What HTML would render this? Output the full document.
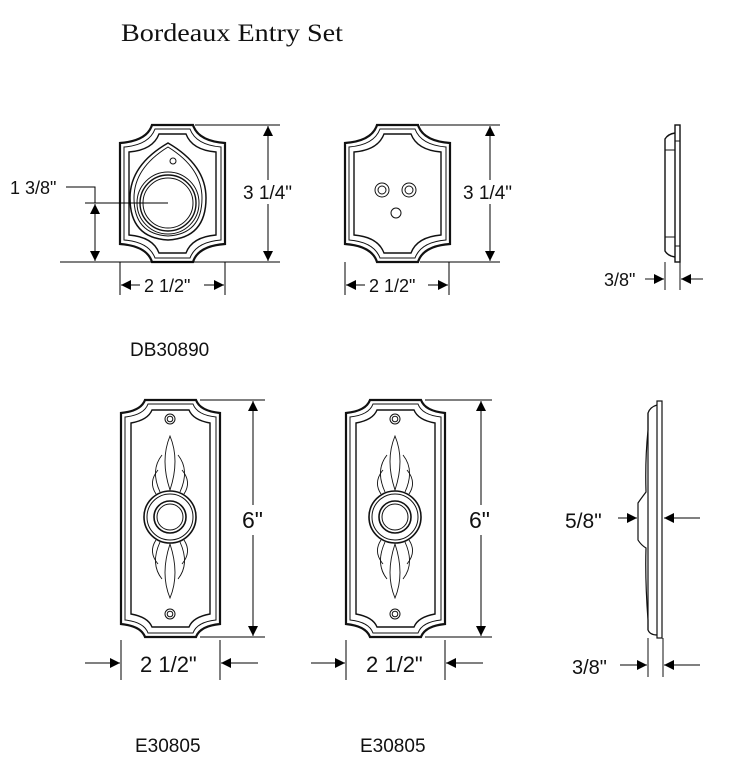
<!DOCTYPE html>
<html><head><meta charset="utf-8"><style>
html,body{margin:0;padding:0;background:#fff;width:747px;height:771px;overflow:hidden}
svg{display:block}
text{font-family:"Liberation Sans",sans-serif;fill:#111}
</style></head><body>
<svg width="747" height="771" viewBox="0 0 747 771" xmlns="http://www.w3.org/2000/svg">
<defs>
<marker id="a" viewBox="0 0 10 10" refX="10" refY="5" markerWidth="10" markerHeight="10" markerUnits="userSpaceOnUse" orient="auto-start-reverse"><path d="M0,0L10,5L0,10Z" fill="#000"/></marker>
<g id="plateA" fill="none" stroke="#111">
<path stroke-width="2.2" d="M152,125 H193 Q198,141 225,143 V244 Q198,246 193,262 H152 Q147,246 120,244 V143 Q147,141 152,125Z"/>
<path stroke-width="1" d="M155,129 H190 Q196,145 221,147 V240 Q196,242 190,258 H155 Q149,242 124,240 V147 Q149,145 155,129Z"/>
<path stroke-width="1.4" d="M159,134 H186 Q192,150 216,152 V235 Q192,237 186,253 H159 Q153,237 129,235 V152 Q153,150 159,134Z"/>
</g>
<g id="plateB" fill="none" stroke="#111">
<path stroke-width="2.2" d="M145,400 H196 Q200,411 220,413 V624 Q200,626 196,637 H145 Q141,626 121,624 V413 Q141,411 145,400Z"/>
<path stroke-width="1" d="M148,404 H193 Q197,415 216,417 V620 Q197,622 193,633 H148 Q144,622 125,620 V417 Q144,415 148,404Z"/>
<path stroke-width="1.4" d="M152,410 H189 Q193,420 210,423 V614 Q193,617 189,627 H152 Q148,617 131,614 V423 Q148,420 152,410Z"/>
<circle cx="170" cy="419" r="5"/><circle cx="170" cy="419" r="2.8"/>
<circle cx="170" cy="614" r="5"/><circle cx="170" cy="614" r="2.8"/>
<g stroke-width="0.9">
<path d="M170,436 Q160,460 170,490 Q180,460 170,436Z"/>
<path d="M162,455 Q150,470 160,492 M178,455 Q190,470 180,492"/>
<path d="M158,470 Q148,482 156,494 M182,470 Q192,482 184,494"/>
<path d="M170,598 Q160,574 170,544 Q180,574 170,598Z"/>
<path d="M162,579 Q150,564 160,542 M178,579 Q190,564 180,542"/>
<path d="M158,564 Q148,552 156,540 M182,564 Q192,552 184,540"/>
</g>
<circle cx="170" cy="517" r="26" fill="#fff" stroke-width="1.6"/><circle cx="170" cy="517" r="23"/>
<circle cx="170" cy="517" r="16" stroke-width="1.6"/><circle cx="170" cy="517" r="13"/>
</g>
</defs>
<text x="121" y="41" style="font-family:'Liberation Serif',serif;font-size:25px" textLength="222" lengthAdjust="spacingAndGlyphs">Bordeaux Entry Set</text>

<!-- top left -->
<use href="#plateA"/>
<g fill="none" stroke="#111" stroke-width="1">
<path d="M130,198 Q130,165 168,143 Q206,165 206,198 Q206,238 168,240 Q130,238 130,198Z" stroke-width="1.5"/>
<path d="M134,198 Q134,168 168,147 Q202,168 202,198 Q202,234 168,236 Q134,234 134,198Z"/>
<circle cx="168" cy="203" r="31"/><circle cx="168" cy="203" r="28" stroke-width="1.4"/><circle cx="168" cy="203" r="25"/>
<circle cx="173" cy="161" r="3"/>
</g>
<g stroke="#000" stroke-width="1" fill="none">
<line x1="195" y1="125" x2="280" y2="125"/><line x1="60" y1="262" x2="280" y2="262"/>
<line x1="268" y1="126" x2="268" y2="261" marker-start="url(#a)" marker-end="url(#a)"/>
<polyline points="66,187 95,187 95,203"/>
<line x1="85" y1="203" x2="168" y2="203"/>
<line x1="95" y1="204" x2="95" y2="261" marker-start="url(#a)" marker-end="url(#a)"/>
<line x1="120" y1="262" x2="120" y2="295"/><line x1="225" y1="262" x2="225" y2="295"/>
<line x1="121" y1="285" x2="140" y2="285" marker-start="url(#a)"/><line x1="204" y1="285" x2="224" y2="285" marker-end="url(#a)"/>
</g>
<rect x="240" y="180" width="56" height="24" fill="#fff"/>
<text x="243" y="199" font-size="19">3 1/4"</text>
<text x="10" y="194" font-size="18">1 3/8"</text>
<text x="144" y="292" font-size="18">2 1/2"</text>
<text x="130" y="356" font-size="19">DB30890</text>

<!-- top middle -->
<use href="#plateA" x="225"/>
<g fill="none" stroke="#111" stroke-width="1">
<circle cx="382" cy="190" r="7"/><circle cx="382" cy="190" r="4"/>
<circle cx="409" cy="190" r="7"/><circle cx="409" cy="190" r="4"/>
<circle cx="396" cy="213" r="5"/>
</g>
<g stroke="#000" stroke-width="1" fill="none">
<line x1="420" y1="125" x2="500" y2="125"/><line x1="420" y1="262" x2="500" y2="262"/>
<line x1="490" y1="126" x2="490" y2="261" marker-start="url(#a)" marker-end="url(#a)"/>
<line x1="345" y1="262" x2="345" y2="295"/><line x1="449" y1="262" x2="449" y2="295"/>
<line x1="346" y1="285" x2="365" y2="285" marker-start="url(#a)"/><line x1="428" y1="285" x2="448" y2="285" marker-end="url(#a)"/>
</g>
<rect x="460" y="180" width="58" height="24" fill="#fff"/>
<text x="463" y="199" font-size="19">3 1/4"</text>
<text x="369" y="292" font-size="18">2 1/2"</text>

<!-- top side view -->
<g fill="none" stroke="#111" stroke-width="1">
<rect x="675" y="125" width="5" height="137" stroke-width="1.4"/>
<line x1="675" y1="141" x2="680" y2="141"/><line x1="675" y1="246" x2="680" y2="246"/>
<path d="M675,133 Q668,134 665,139 V251 Q668,256 675,257" stroke-width="1.4"/>
<line x1="665" y1="150" x2="675" y2="150"/><line x1="665" y1="237" x2="675" y2="237"/>
<line x1="665" y1="262" x2="665" y2="290"/><line x1="680" y1="262" x2="680" y2="290"/>
<line x1="645" y1="279" x2="664" y2="279" marker-end="url(#a)"/>
<line x1="703" y1="279" x2="681" y2="279" marker-end="url(#a)"/>
</g>
<text x="604" y="286" font-size="18">3/8"</text>

<!-- bottom left -->
<use href="#plateB"/>
<g stroke="#000" stroke-width="1" fill="none">
<line x1="200" y1="400" x2="265" y2="400"/><line x1="200" y1="637" x2="265" y2="637"/>
<line x1="253" y1="401" x2="253" y2="636" marker-start="url(#a)" marker-end="url(#a)"/>
<line x1="121" y1="640" x2="121" y2="680"/><line x1="220" y1="640" x2="220" y2="680"/>
<line x1="85" y1="663" x2="120" y2="663" marker-end="url(#a)"/>
<line x1="258" y1="663" x2="221" y2="663" marker-end="url(#a)"/>
</g>
<rect x="240" y="505" width="30" height="30" fill="#fff"/>
<text x="242" y="528" font-size="23">6"</text>
<text x="140" y="672" font-size="22">2 1/2"</text>
<text x="135" y="752" font-size="19">E30805</text>

<!-- bottom middle -->
<use href="#plateB" x="225"/>
<g stroke="#000" stroke-width="1" fill="none">
<line x1="425" y1="400" x2="492" y2="400"/><line x1="425" y1="637" x2="492" y2="637"/>
<line x1="481" y1="401" x2="481" y2="636" marker-start="url(#a)" marker-end="url(#a)"/>
<line x1="346" y1="640" x2="346" y2="680"/><line x1="445" y1="640" x2="445" y2="680"/>
<line x1="311" y1="663" x2="345" y2="663" marker-end="url(#a)"/>
<line x1="483" y1="663" x2="446" y2="663" marker-end="url(#a)"/>
</g>
<rect x="467" y="505" width="30" height="30" fill="#fff"/>
<text x="469" y="528" font-size="23">6"</text>
<text x="366" y="672" font-size="22">2 1/2"</text>
<text x="360" y="752" font-size="19">E30805</text>

<!-- bottom side view -->
<g fill="none" stroke="#111" stroke-width="1.2">
<rect x="657" y="401" width="5" height="237"/>
<path d="M657,405 Q650,407 648,413 V430 Q645,460 646,492 L643,496 Q640,500 638,503 V540 Q641,545 646,548 Q645,580 648,620 V630 Q650,635 657,635"/>
<line x1="648" y1="413" x2="648" y2="630"/>
<line x1="648" y1="638" x2="648" y2="677" stroke-width="1"/><line x1="663" y1="638" x2="663" y2="677" stroke-width="1"/>
</g>
<g stroke="#000" stroke-width="1" fill="none">
<line x1="618" y1="518" x2="637" y2="518" marker-end="url(#a)"/>
<line x1="700" y1="518" x2="664" y2="518" marker-end="url(#a)"/>
<line x1="620" y1="665" x2="647" y2="665" marker-end="url(#a)"/>
<line x1="700" y1="665" x2="664" y2="665" marker-end="url(#a)"/>
</g>
<text x="565" y="528" font-size="21">5/8"</text>
<text x="572" y="674" font-size="20">3/8"</text>
</svg>
</body></html>
